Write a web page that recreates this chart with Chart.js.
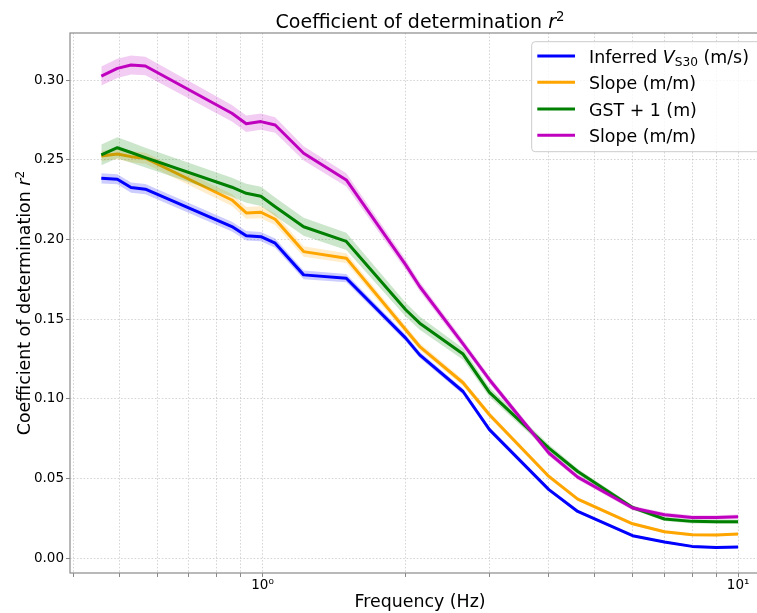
<!DOCTYPE html>
<html><head><meta charset="utf-8">
<script src="https://cdn.jsdelivr.net/npm/chart.js@4/dist/chart.umd.min.js"></script>
<style>
html,body{margin:0;padding:0;overflow:hidden;background:#fff;width:757px;height:613px}
#wrap{position:relative;width:790px;height:613px}
</style></head>
<body><div id="wrap"><canvas id="c"></canvas></div>
<script>
// ---- data ----
const frequencies = [0.458, 0.495, 0.529, 0.567, 0.862, 0.924, 0.992, 1.063, 1.22, 1.5, 2.0, 2.14, 2.64, 3.0, 4.0, 4.6, 6.0, 7.0, 8.0, 9.0, 10.0];
const inferredVs30 = [0.2383, 0.2377, 0.2325, 0.2315, 0.2080, 0.2022, 0.2017, 0.1976, 0.1777, 0.1756, 0.1380, 0.1275, 0.1045, 0.0806, 0.0429, 0.0292, 0.0140, 0.0100, 0.0073, 0.0066, 0.0069];
const slopeA = [0.2523, 0.2536, 0.2519, 0.2509, 0.2247, 0.2166, 0.2170, 0.2126, 0.1923, 0.1882, 0.1433, 0.1327, 0.1100, 0.0899, 0.0512, 0.0370, 0.0215, 0.0165, 0.0146, 0.0144, 0.0150];
const gstPlus1 = [0.2530, 0.2575, 0.2545, 0.2513, 0.2327, 0.2289, 0.2270, 0.2205, 0.2079, 0.1987, 0.1558, 0.1474, 0.1280, 0.1040, 0.0690, 0.0543, 0.0317, 0.0245, 0.0230, 0.0228, 0.0228];
const slopeB = [0.3025, 0.3073, 0.3094, 0.3088, 0.2791, 0.2725, 0.2739, 0.2718, 0.2540, 0.2373, 0.1840, 0.1704, 0.1344, 0.1119, 0.0659, 0.0508, 0.0314, 0.0272, 0.0255, 0.0255, 0.0259];
// half-widths of the shaded uncertainty bands
const inferredVs30Err = [0.0032, 0.0032, 0.0032, 0.0032, 0.003, 0.003, 0.0029, 0.0029, 0.0027, 0.0026, 0.0021, 0.002, 0.0018, 0.0015, 0.0012, 0.001, 0.0008, 0.0008, 0.0007, 0.0007, 0.0007];
const slopeAErr = [0.0032, 0.0034, 0.0035, 0.0035, 0.0037, 0.0037, 0.0037, 0.0036, 0.0033, 0.0031, 0.0025, 0.0022, 0.002, 0.0018, 0.0014, 0.0012, 0.001, 0.0009, 0.0008, 0.0008, 0.0008];
const gstPlus1Err = [0.0065, 0.0066, 0.0064, 0.0062, 0.006, 0.006, 0.006, 0.0058, 0.0057, 0.0054, 0.0044, 0.0041, 0.0036, 0.003, 0.0022, 0.0018, 0.0014, 0.0013, 0.0013, 0.0013, 0.0013];
const slopeBErr = [0.006, 0.006, 0.006, 0.0058, 0.0052, 0.0052, 0.0051, 0.0049, 0.0045, 0.0042, 0.0032, 0.003, 0.0026, 0.0023, 0.0018, 0.0016, 0.0014, 0.0014, 0.0014, 0.0014, 0.0014];
const seriesNames = ['Inferred VS30 (m/s)', 'Slope (m/m)', 'GST + 1 (m)', 'Slope (m/m)'];
const yTickValues = [0, 0.05, 0.10, 0.15, 0.20, 0.25, 0.30];
const xTickValues = [0.4, 0.5, 0.6, 0.7, 0.8, 0.9, 1, 2, 3, 4, 5, 6, 7, 8, 9, 10];
const xTickLabels = {1: '10\u2070', 10: '10\u00B9'};
const titleText = 'Coefficient of determination ';
const xAxisTitle = 'Frequency (Hz)';

// ---- styling ----
const FONT = '"DejaVu Sans", "Liberation Sans", sans-serif';
const colors = [[0, 0, 255], [255, 165, 0], [0, 128, 0], [191, 0, 191]];
const seriesVals = [inferredVs30, slopeA, gstPlus1, slopeB];
const seriesErr = [inferredVs30Err, slopeAErr, gstPlus1Err, slopeBErr];
const rgba = (c, a) => `rgba(${c[0]},${c[1]},${c[2]},${a})`;

const datasets = [];
seriesVals.forEach((vals, i) => {
  const c = colors[i], err = seriesErr[i];
  const base = 80 - i * 20;
  datasets.push({
    label: '_upper' + i,
    data: frequencies.map((f, j) => ({x: f, y: vals[j] + err[j]})),
    borderColor: 'transparent', borderWidth: 0, pointRadius: 0,
    backgroundColor: rgba(c, 0.2), fill: '+1', tension: 0, order: base + 2
  });
  datasets.push({
    label: '_lower' + i,
    data: frequencies.map((f, j) => ({x: f, y: vals[j] - err[j]})),
    borderColor: 'transparent', borderWidth: 0, pointRadius: 0,
    fill: false, tension: 0, order: base + 1
  });
  datasets.push({
    label: seriesNames[i],
    data: frequencies.map((f, j) => ({x: f, y: vals[j]})),
    borderColor: rgba(c, 1), borderWidth: 3, pointRadius: 0,
    fill: false, tension: 0, order: base, borderCapStyle: 'butt', borderJoinStyle: 'round'
  });
});

function fontStr(p, size) {
  return (p.italic ? 'oblique ' : '') + (size * (p.scale || 1)).toFixed(2) + 'px ' + FONT;
}
function drawRich(ctx, parts, x, y, size, align) {
  let w = 0;
  parts.forEach(p => { ctx.font = fontStr(p, size); p.w = ctx.measureText(p.t).width; w += p.w; });
  let cx = align === 'center' ? x - w / 2 : x;
  ctx.textAlign = 'left';
  ctx.textBaseline = 'alphabetic';
  parts.forEach(p => {
    ctx.font = fontStr(p, size);
    ctx.fillText(p.t, cx, y + (p.dy || 0) * size);
    cx += p.w;
  });
}

const decor = {
  id: 'decor',
  afterDatasetsDraw(chart) {
    const {ctx, chartArea: a} = chart;
    ctx.save();
    ctx.strokeStyle = '#8a8a8a';
    ctx.lineWidth = 1.2;
    ctx.strokeRect(a.left, a.top, a.right - a.left, a.bottom - a.top);
    ctx.restore();
  },
  afterDraw(chart) {
    const {ctx, chartArea: a} = chart;
    ctx.save();
    ctx.fillStyle = '#000';
    // title
    drawRich(ctx, [{t: titleText}, {t: 'r', italic: true}, {t: '2', scale: 0.7, dy: -0.36}],
      (a.left + a.right) / 2, 27.5, 19, 'center');
    // y-axis title
    ctx.save();
    ctx.translate(30, (a.top + a.bottom) / 2);
    ctx.rotate(-Math.PI / 2);
    drawRich(ctx, [{t: titleText}, {t: 'r', italic: true}, {t: '2', scale: 0.7, dy: -0.36}], 0, 0, 17.4, 'center');
    ctx.restore();
    // legend
    const lx = 531.7, ly = 41.7, lw = a.right - 8.7 - 531.7, lh = 110;
    ctx.beginPath();
    ctx.roundRect(lx, ly, lw, lh, 3.5);
    ctx.fillStyle = 'rgba(255,255,255,0.8)';
    ctx.fill();
    ctx.strokeStyle = '#cccccc';
    ctx.lineWidth = 1;
    ctx.stroke();
    const rows = [56, 82.3, 109, 135.3];
    const labels = [
      [{t: 'Inferred '}, {t: 'V', italic: true}, {t: 'S30', scale: 0.7, dy: 0.2}, {t: ' (m/s)'}],
      [{t: seriesNames[1]}],
      [{t: seriesNames[2]}],
      [{t: seriesNames[3]}]
    ];
    rows.forEach((ry, i) => {
      ctx.beginPath();
      ctx.moveTo(537.3, ry);
      ctx.lineTo(575, ry);
      ctx.strokeStyle = rgba(colors[i], 1);
      ctx.lineWidth = 3;
      ctx.stroke();
      ctx.fillStyle = '#000';
      drawRich(ctx, labels[i], 589, ry + 6.8, 17.4, 'left');
    });
    ctx.restore();
  }
};

new Chart(document.getElementById('c'), {
  type: 'line',
  data: {datasets},
  plugins: [decor],
  options: {
    responsive: true, maintainAspectRatio: false, animation: false, devicePixelRatio: 1,
    layout: {padding: {top: 33, right: 20, left: 0, bottom: 0}},
    plugins: {legend: {display: false}, tooltip: {enabled: false}, filler: {propagate: false}},
    elements: {line: {borderJoinStyle: 'round'}},
    scales: {
      x: {
        type: 'logarithmic', min: 0.3936, max: 11.67,
        afterBuildTicks: s => { s.ticks = xTickValues.map(v => ({value: v, major: v === 1 || v === 10})); },
        afterFit: s => { s.height = 40; },
        ticks: {
          autoSkip: false, maxRotation: 0, minRotation: 0, padding: 0,
          color: '#000', font: {family: FONT, size: 13.5},
          callback: v => xTickLabels[v] || ''
        },
        grid: {color: 'rgba(160,160,160,0.55)', lineWidth: 0.8, tickLength: 4, tickColor: '#8a8a8a', tickWidth: 1, drawTicks: true},
        border: {display: false, dash: [1.6, 1.8]},
        title: {display: true, text: xAxisTitle, color: '#000', font: {family: FONT, size: 17.4}, padding: {top: 0, bottom: 0}}
      },
      y: {
        type: 'linear', min: -0.0094, max: 0.3295,
        afterBuildTicks: s => { s.ticks = yTickValues.map(v => ({value: v})); },
        afterFit: s => { s.width = 70; },
        ticks: {
          padding: 2, color: '#000', font: {family: FONT, size: 13.5},
          callback: v => Number(v).toFixed(2)
        },
        grid: {color: 'rgba(160,160,160,0.55)', lineWidth: 0.8, tickLength: 4, tickColor: '#8a8a8a', tickWidth: 1},
        border: {display: false, dash: [1.6, 1.8]}
      }
    }
  }
});
</script>
</body></html>
